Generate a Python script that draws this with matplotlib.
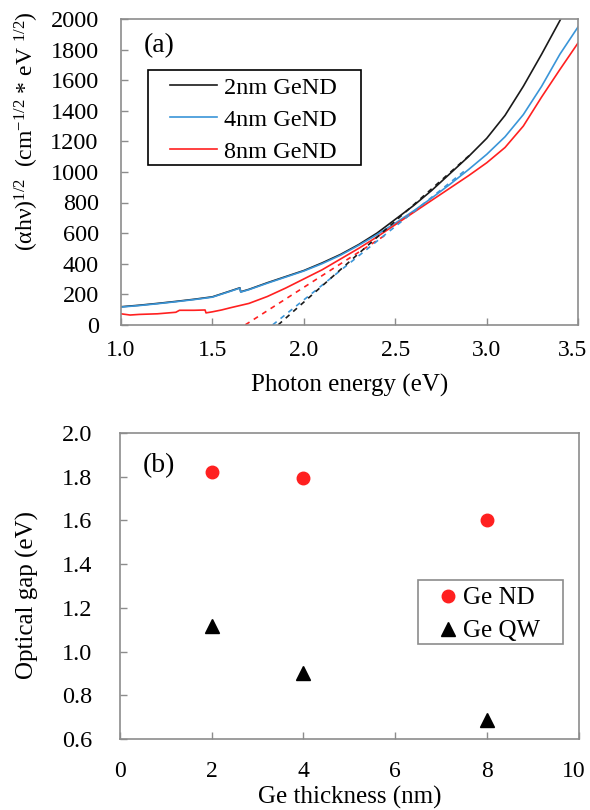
import numpy as np
import matplotlib
matplotlib.use('Agg')
import matplotlib.pyplot as plt
from matplotlib.patches import Rectangle
from matplotlib.transforms import ScaledTranslation

plt.rcParams['font.family'] = ['Liberation Serif', 'DejaVu Serif']
plt.rcParams['mathtext.fontset'] = 'custom'
plt.rcParams['mathtext.rm'] = 'Liberation Serif'
plt.rcParams['mathtext.it'] = 'Liberation Serif'

# ---- panel (a): Tauc plot ----
e_2nm = [1.0, 1.1, 1.2, 1.3, 1.4, 1.5, 1.6, 1.65, 1.655, 1.7, 1.8, 1.9, 2.0, 2.1, 2.2, 2.3,
         2.4, 2.5, 2.6, 2.7, 2.8, 2.9, 3.0, 3.1, 3.2, 3.3, 3.4, 3.43]
y_2nm = [118, 128, 140, 153, 167, 183, 222, 242, 216, 232, 275, 315, 355, 405, 460, 525,
         600, 690, 780, 880, 990, 1100, 1220, 1370, 1560, 1770, 1990, 2060]

e_4nm = [1.0, 1.1, 1.2, 1.3, 1.4, 1.5, 1.6, 1.65, 1.655, 1.7, 1.8, 1.9, 2.0, 2.1, 2.2, 2.3,
         2.4, 2.5, 2.6, 2.7, 2.8, 2.9, 3.0, 3.1, 3.2, 3.3, 3.4, 3.5]
y_4nm = [116, 126, 138, 151, 165, 181, 220, 240, 214, 230, 272, 312, 352, 400, 455, 520,
         590, 665, 745, 830, 920, 1015, 1115, 1230, 1375, 1560, 1770, 1950]

e_8nm = [1.0, 1.05, 1.1, 1.2, 1.3, 1.32, 1.4, 1.46, 1.465, 1.5, 1.55, 1.6, 1.7, 1.8, 1.9,
         2.0, 2.1, 2.2, 2.3, 2.4, 2.5, 2.6, 2.7, 2.8, 2.9, 3.0, 3.1, 3.2, 3.3, 3.4, 3.5]
y_8nm = [72, 64, 68, 72, 82, 95, 95, 97, 78, 85, 97, 112, 140, 185, 240,
         300, 360, 430, 500, 575, 655, 735, 815, 895, 975, 1060, 1160, 1300, 1490, 1670, 1845]

# linear fits (start, end energies and end values)
fit_2nm = ([1.86, 2.92], [0, 1124])
fit_4nm = ([1.83, 2.88], [0, 1008])
fit_8nm = ([1.68, 2.45], [0, 590])

# ---- panel (b): optical gap ----
thickness = [2, 4, 8]
gap_nd = [1.82, 1.795, 1.60]
gap_qw = [1.115, 0.90, 0.685]

black = '#1a1a1a'
blue = '#3a95d8'
red = '#ff2020'
frame = '#8c8c8c'

fig = plt.figure(figsize=(5.9, 8.1), dpi=100)

ax1 = fig.add_axes([0.205, 0.599, 0.775, 0.3775])
ax1.plot(e_2nm, y_2nm, color=black, lw=1.2, label='2nm GeND')
ax1.plot(e_4nm, y_4nm, color=blue, lw=1.2, label='4nm GeND')
ax1.plot(e_8nm, y_8nm, color=red, lw=1.2, label='8nm GeND')
ax1.plot(fit_8nm[0], fit_8nm[1], color=red, lw=1.2, ls=(0, (3, 3)))
ax1.plot(fit_4nm[0], fit_4nm[1], color=blue, lw=1.2, ls=(0, (3, 3)))
ax1.plot(fit_2nm[0], fit_2nm[1], color=black, lw=1.2, ls=(0, (3, 3)))
ax1.set_xlim(1.0, 3.5)
ax1.set_ylim(0, 2000)
ax1.set_xticks([1.0, 1.5, 2.0, 2.5, 3.0, 3.5])
ax1.set_xticklabels(['1.0', '1.5', '2.0', '2.5', '3.0', '3.5'])
ax1.set_yticks(range(0, 2001, 200))
ax1.set_xlabel('Photon energy (eV)', fontsize=18, labelpad=9)
ax1.text(0.05, 0.913, '(a)', transform=ax1.transAxes, fontsize=20, va='center')
# legend box drawn separately so the padding matches
ax1.add_patch(Rectangle((0.059, 0.523), 0.466, 0.31, transform=ax1.transAxes,
                        fill=False, edgecolor='black', lw=1.2, zorder=5))
ax1.legend(loc='upper left', bbox_to_anchor=(0.108, 0.812), fontsize=17.5,
           frameon=False, handlelength=1.9, handletextpad=0.3, borderpad=0,
           labelspacing=0.42, borderaxespad=0)

fig.text(0.046, 0.735, '(αhν)$^{1/2}$', rotation=90, fontsize=17,
         ha='center', va='center')
fig.text(0.046, 0.89, '(cm$^{-1/2}$ * eV $^{1/2}$)', rotation=90, fontsize=17,
         ha='center', va='center')

ax2 = fig.add_axes([0.203, 0.0877, 0.778, 0.3777])
ax2.plot(thickness, gap_nd, 'o', color=red, ms=9, label='Ge ND')
ax2.plot(thickness, gap_qw, '^', color='black', ms=10, label='Ge QW')
ax2.set_xlim(0, 10)
ax2.set_ylim(0.6, 2.0)
ax2.set_xticks([0, 2, 4, 6, 8, 10])
ax2.set_yticks(np.arange(0.6, 2.01, 0.2))
ax2.set_yticklabels(['0.6', '0.8', '1.0', '1.2', '1.4', '1.6', '1.8', '2.0'])
ax2.set_xlabel('Ge thickness (nm)', fontsize=18, labelpad=3)
ax2.set_ylabel('Optical gap (eV)', fontsize=18)
ax2.yaxis.set_label_coords(-0.175, 0.47)
ax2.text(0.05, 0.895, '(b)', transform=ax2.transAxes, fontsize=20, va='center')
ax2.add_patch(Rectangle((0.649, 0.31), 0.316, 0.209, transform=ax2.transAxes,
                        fill=False, edgecolor=frame, lw=1.2, zorder=5))
ax2.legend(loc='upper left', bbox_to_anchor=(0.69, 0.497), fontsize=18,
           frameon=False, handlelength=0.9, handletextpad=0.15, borderpad=0,
           labelspacing=0.42, borderaxespad=0)

for ax, px, py in ((ax1, 11, 16), (ax2, 16, 20)):
    for s in ax.spines.values():
        s.set_color(frame)
        s.set_linewidth(1.2)
    ax.tick_params(direction='in', length=5, width=1, color=frame, labelsize=17.5,
                   top=False, right=False)
    ax.tick_params(axis='x', pad=px, labelsize=17)
    ax.tick_params(axis='y', pad=py)

# nudge the last tick labels in so they stay inside the figure
for ax in (ax1, ax2):
    lab = ax.get_xticklabels()[-1]
    lab.set_transform(lab.get_transform() + ScaledTranslation(-4 / 72, 0, fig.dpi_scale_trans))

fig.savefig('out.png', dpi=100)
